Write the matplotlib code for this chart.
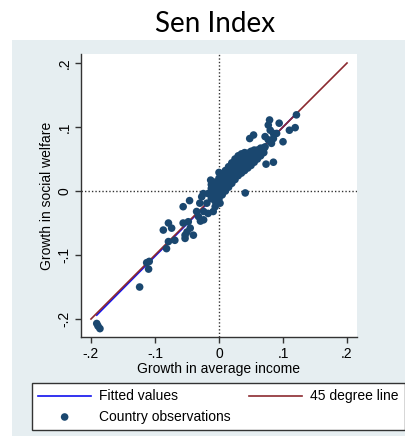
import matplotlib
matplotlib.use("Agg")
import matplotlib.pyplot as plt
from matplotlib.patches import Rectangle
import numpy as np

# ---------------- data ----------------
title = "Sen Index"
xlabel = "Growth in average income"
ylabel = "Growth in social welfare"
tick_vals = [-0.2, -0.1, 0.0, 0.1, 0.2]
tick_labels = ["-.2", "-.1", "0", ".1", ".2"]

# country observations (x = growth in average income, y = growth in social welfare)
outliers = [
    (-0.191, -0.207), (-0.189, -0.211), (-0.186, -0.215),
    (-0.124, -0.150),
    (-0.110, -0.122), (-0.109, -0.110), (-0.113, -0.112),
    (-0.082, -0.090), (-0.079, -0.079), (-0.069, -0.077),
    (-0.087, -0.061), (-0.079, -0.050), (-0.074, -0.058),
    (-0.056, -0.050), (-0.048, -0.048), (-0.053, -0.069),
    (-0.050, -0.064), (-0.053, -0.074), (-0.040, -0.069),
    (-0.045, -0.058), (-0.032, -0.040), (-0.035, -0.032),
    (-0.024, -0.045), (-0.024, -0.032), (-0.029, -0.047),
    (-0.017, -0.035), (-0.009, -0.032), (-0.006, -0.0245),
    (0.0016, -0.019), (-0.019, -0.019), (-0.030, -0.019),
    (-0.056, -0.0245), (-0.046, -0.015), (-0.027, -0.009),
    (-0.0245, -0.004), (-0.017, -0.004), (-0.011, 0.007),
    (-0.004, 0.012), (-0.013, 0.017), (0.000, 0.029),
    (0.041, -0.003),
    (0.121, 0.119), (0.119, 0.099), (0.110, 0.095), (0.100, 0.077),
    (0.094, 0.106), (0.079, 0.111), (0.077, 0.103), (0.080, 0.095),
    (0.072, 0.085), (0.077, 0.080), (0.085, 0.082), (0.090, 0.090),
    (0.085, 0.090), (0.082, 0.0745), (0.054, 0.0875), (0.048, 0.082),
    (0.0735, 0.042), (0.085, 0.045), (0.069, 0.067), (0.059, 0.061),
    (0.072, 0.069),
]
cluster = [
    (-0.012, -0.012), (-0.012, -0.004), (-0.012, 0.004), (-0.012, 0.010),
    (-0.006, -0.016), (-0.006, -0.008), (-0.006, 0.000), (-0.006, 0.008), (-0.006, 0.014),
    (0.000, -0.012), (0.000, -0.004), (0.000, 0.004), (0.000, 0.012), (0.000, 0.020),
    (0.005, -0.006), (0.005, 0.002), (0.005, 0.010), (0.005, 0.018), (0.005, 0.026),
    (0.010, 0.000), (0.010, 0.008), (0.010, 0.016), (0.010, 0.024), (0.010, 0.032),
    (0.015, 0.006), (0.015, 0.014), (0.015, 0.022), (0.015, 0.030), (0.015, 0.038),
    (0.020, 0.012), (0.020, 0.020), (0.020, 0.028), (0.020, 0.036), (0.020, 0.044),
    (0.025, 0.018), (0.025, 0.026), (0.025, 0.034), (0.025, 0.042), (0.025, 0.050),
    (0.030, 0.024), (0.030, 0.032), (0.030, 0.040), (0.030, 0.048), (0.030, 0.055),
    (0.035, 0.028), (0.035, 0.036), (0.035, 0.044), (0.035, 0.052), (0.035, 0.058),
    (0.040, 0.032), (0.040, 0.040), (0.040, 0.048), (0.040, 0.056), (0.040, 0.060),
    (0.045, 0.036), (0.045, 0.044), (0.045, 0.052), (0.045, 0.059),
    (0.050, 0.040), (0.050, 0.048), (0.050, 0.056), (0.050, 0.062),
    (0.055, 0.045), (0.055, 0.052), (0.055, 0.059), (0.055, 0.064),
    (0.060, 0.050), (0.060, 0.057), (0.060, 0.064),
    (0.065, 0.055), (0.065, 0.062), (0.065, 0.067),
    (0.070, 0.060), (0.070, 0.066),
]
obs_x = [p[0] for p in outliers + cluster]
obs_y = [p[1] for p in outliers + cluster]

fit_slope = 1.01
fit_intercept = -0.001
line45_range = [-0.2, 0.2]

# ---------------- figure ----------------
W, H = 406, 436
fig = plt.figure(figsize=(W / 100, H / 100), dpi=100)
fig.patch.set_facecolor("white")
plt.rcParams["font.family"] = ["Liberation Sans", "DejaVu Sans"]

bg = "#e6eef1"
fig.patches.append(Rectangle((12 / W, 0), 1 - 12 / W, 1 - 40 / H,
                             transform=fig.transFigure, facecolor=bg,
                             edgecolor="none", zorder=-10))

ax = fig.add_axes([81 / W, 1 - 337 / H, (357 - 81) / W, (337 - 54) / H])
ax.set_zorder(1)
ax.set_facecolor("white")
ax.set_xlim(-0.2156, 0.2156)
ax.set_ylim(-0.2281, 0.2141)

for s in ["top", "right"]:
    ax.spines[s].set_visible(False)
for s in ["left", "bottom"]:
    ax.spines[s].set_color("#333333")
    ax.spines[s].set_linewidth(1.0)

ax.axvline(0, color="#333333", lw=1.0, ls=(0, (1, 1.5)), zorder=1)
ax.axhline(0, color="#333333", lw=1.0, ls=(0, (1, 1.5)), zorder=1)

fx = np.array([min(obs_x), max(obs_x)])
fit_line, = ax.plot(fx, fit_intercept + fit_slope * fx, color="#1010ee", lw=1.2, zorder=2,
                    label="Fitted values")
l45, = ax.plot(line45_range, line45_range, color="#8c2a30", lw=1.2, zorder=2.1,
               label="45 degree line")
sc = ax.scatter(obs_x, obs_y, s=30, color="#1a476f", edgecolors="none", zorder=3,
                label="Country observations")

ax.set_xticks(tick_vals)
ax.set_xticklabels(tick_labels)
ax.set_yticks(tick_vals)
ax.set_yticklabels(tick_labels, rotation=90, va="center")
ax.tick_params(direction="out", length=4, width=1, color="#333333",
               labelsize=10, pad=3)
ax.set_xlabel(xlabel, fontsize=10, labelpad=1)
ax.set_ylabel(ylabel, fontsize=10, labelpad=2)

fig.text(215 / W, 1 - 32 / H, title, ha="center", va="baseline",
         fontsize=20, family=["Lato", "DejaVu Sans"])

leg = fig.legend(handles=[fit_line, sc, l45],
                 labels=["Fitted values", "Country observations", "45 degree line"],
                 ncol=2, loc="center",
                 bbox_to_anchor=(32 / W, 1 - 430 / H, 373 / W, 47 / H),
                 mode="expand", fontsize=10, frameon=True, fancybox=False,
                 edgecolor="#333333", framealpha=1, handlelength=3.8, handletextpad=0.6,
                 borderpad=0.45, labelspacing=0.45, borderaxespad=0,
                 scatterpoints=1)
leg.get_frame().set_linewidth(1.0)

fig.savefig("out.png", dpi=100, facecolor=fig.get_facecolor())
